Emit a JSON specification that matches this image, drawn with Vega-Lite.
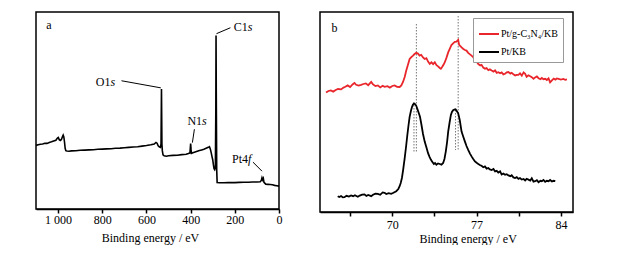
{
  "$schema": "https://vega.github.io/schema/vega-lite/v6.json",
  "background": "white",
  "padding": {"left": 32, "top": 11, "right": 0, "bottom": 0},
  "bounds": "flush",
  "spacing": 41,
  "config": {
    "font": "Liberation Serif",
    "view": {"stroke": "black", "strokeWidth": 1.5},
    "axis": {
      "grid": false, "domainColor": "black", "domainWidth": 1.5, "tickColor": "black", "tickWidth": 1.5, "tickSize": 4,
      "labelFont": "Liberation Serif", "labelFontSize": 12, "labelColor": "black", "labelFlush": false, "labelOverlap": false,
      "titleFont": "Liberation Serif", "titleFontSize": 12, "titleFontWeight": "normal", "titleColor": "black"
    },
    "text": {"font": "Liberation Serif", "fontSize": 12, "color": "black"}
  },
  "datasets": {
    "survey": [
      {"E":1100,"I":32.3},{"E":1090,"I":32.6},{"E":1080,"I":32.9},{"E":1070,"I":33.0},{"E":1060,"I":33.4},{"E":1050,"I":33.3},{"E":1040,"I":33.8},{"E":1030,"I":34.1},{"E":1020,"I":34.5},{"E":1010,"I":34.9},{"E":1003,"I":36.0},{"E":999,"I":36.3},{"E":995,"I":35.2},{"E":990,"I":34.8},{"E":985,"I":35.3},{"E":980,"I":36.8},{"E":977,"I":37.5},{"E":974,"I":36.6},{"E":971,"I":34.0},{"E":968,"I":30.8},{"E":965,"I":29.6},{"E":960,"I":29.4},{"E":950,"I":29.3},{"E":940,"I":29.5},{"E":920,"I":29.6},{"E":900,"I":29.8},{"E":880,"I":29.9},{"E":860,"I":30.0},{"E":840,"I":30.1},{"E":820,"I":30.3},{"E":800,"I":30.4},{"E":780,"I":30.5},{"E":760,"I":30.6},{"E":740,"I":30.8},{"E":720,"I":30.9},{"E":700,"I":31.1},{"E":680,"I":31.3},{"E":660,"I":31.5},{"E":640,"I":31.6},{"E":620,"I":31.9},{"E":600,"I":32.2},{"E":580,"I":32.6},{"E":565,"I":33.0},{"E":557,"I":33.8},{"E":552,"I":33.4},{"E":547,"I":32.1},{"E":542,"I":31.6},{"E":537,"I":31.3},{"E":534,"I":33.0},{"E":532,"I":60.9},{"E":530,"I":33.0},{"E":528,"I":29.5},{"E":525,"I":27.5},{"E":520,"I":27.0},{"E":510,"I":26.8},{"E":500,"I":27.0},{"E":480,"I":27.2},{"E":460,"I":27.3},{"E":440,"I":27.6},{"E":420,"I":27.8},{"E":410,"I":28.2},{"E":403,"I":28.5},{"E":400,"I":33.2},{"E":398,"I":30.0},{"E":396,"I":28.2},{"E":390,"I":28.5},{"E":380,"I":28.9},{"E":370,"I":29.3},{"E":360,"I":29.7},{"E":350,"I":30.0},{"E":340,"I":30.3},{"E":330,"I":30.8},{"E":320,"I":31.3},{"E":315,"I":31.6},{"E":311,"I":30.5},{"E":307,"I":28.6},{"E":303,"I":26.5},{"E":300,"I":25.0},{"E":297,"I":22.5},{"E":294,"I":20.5},{"E":291,"I":20.0},{"E":288,"I":21.0},{"E":286,"I":50.0},{"E":285,"I":88.1},{"E":284,"I":60.0},{"E":282,"I":20.0},{"E":280,"I":13.4},{"E":270,"I":13.3},{"E":250,"I":13.3},{"E":230,"I":13.4},{"E":200,"I":13.4},{"E":180,"I":13.5},{"E":160,"I":13.6},{"E":140,"I":13.6},{"E":120,"I":13.7},{"E":100,"I":13.7},{"E":85,"I":13.8},{"E":80,"I":14.5},{"E":77,"I":15.8},{"E":74,"I":14.8},{"E":71,"I":15.5},{"E":68,"I":13.5},{"E":60,"I":12.6},{"E":50,"I":12.5},{"E":40,"I":12.4},{"E":30,"I":12.3},{"E":20,"I":12.0},{"E":10,"I":11.8},{"E":0,"I":11.6}
    ],
    "leadA": [
      {"E":713,"I":65.1,"E2":535,"I2":61.5},
      {"E":283,"I":89.0,"E2":220,"I2":92.0},
      {"E":383,"I":40.5,"E2":392,"I2":33.7},
      {"E":118,"I":23.8,"E2":77,"I2":19.2}
    ],
    "labelsA": [
      {"E":1030,"I":93.2,"main":"a","suffix":""},
      {"E":763,"I":64.6,"main":"O1","suffix":"s"},
      {"E":141,"I":92.2,"main":"C1","suffix":"s"},
      {"E":348,"I":44.7,"main":"N1","suffix":"s"},
      {"E":140,"I":25.4,"main":"Pt4","suffix":"f"}
    ],
    "pt": [
      {"E":64.5,"I":59.7,"s":"Pt/g-C₃N₄/KB"},{"E":64.7,"I":60.5,"s":"Pt/g-C₃N₄/KB"},{"E":64.9,"I":60.8,"s":"Pt/g-C₃N₄/KB"},{"E":65.1,"I":60.2,"s":"Pt/g-C₃N₄/KB"},{"E":65.3,"I":61.0,"s":"Pt/g-C₃N₄/KB"},{"E":65.5,"I":61.5,"s":"Pt/g-C₃N₄/KB"},{"E":65.75,"I":61.3,"s":"Pt/g-C₃N₄/KB"},{"E":65.95,"I":62.2,"s":"Pt/g-C₃N₄/KB"},{"E":66.1,"I":62.6,"s":"Pt/g-C₃N₄/KB"},{"E":66.3,"I":63.3,"s":"Pt/g-C₃N₄/KB"},{"E":66.5,"I":62.5,"s":"Pt/g-C₃N₄/KB"},{"E":66.7,"I":63.8,"s":"Pt/g-C₃N₄/KB"},{"E":66.86,"I":64.5,"s":"Pt/g-C₃N₄/KB"},{"E":67.0,"I":63.6,"s":"Pt/g-C₃N₄/KB"},{"E":67.2,"I":63.2,"s":"Pt/g-C₃N₄/KB"},{"E":67.41,"I":63.6,"s":"Pt/g-C₃N₄/KB"},{"E":67.6,"I":64.0,"s":"Pt/g-C₃N₄/KB"},{"E":67.8,"I":64.3,"s":"Pt/g-C₃N₄/KB"},{"E":68.0,"I":63.4,"s":"Pt/g-C₃N₄/KB"},{"E":68.25,"I":65.0,"s":"Pt/g-C₃N₄/KB"},{"E":68.4,"I":63.8,"s":"Pt/g-C₃N₄/KB"},{"E":68.6,"I":63.0,"s":"Pt/g-C₃N₄/KB"},{"E":68.8,"I":63.3,"s":"Pt/g-C₃N₄/KB"},{"E":69.0,"I":62.3,"s":"Pt/g-C₃N₄/KB"},{"E":69.2,"I":63.1,"s":"Pt/g-C₃N₄/KB"},{"E":69.36,"I":62.6,"s":"Pt/g-C₃N₄/KB"},{"E":69.6,"I":62.9,"s":"Pt/g-C₃N₄/KB"},{"E":69.8,"I":62.2,"s":"Pt/g-C₃N₄/KB"},{"E":70.0,"I":63.0,"s":"Pt/g-C₃N₄/KB"},{"E":70.19,"I":63.3,"s":"Pt/g-C₃N₄/KB"},{"E":70.4,"I":62.6,"s":"Pt/g-C₃N₄/KB"},{"E":70.61,"I":62.5,"s":"Pt/g-C₃N₄/KB"},{"E":70.75,"I":63.3,"s":"Pt/g-C₃N₄/KB"},{"E":70.89,"I":65.0,"s":"Pt/g-C₃N₄/KB"},{"E":71.03,"I":67.5,"s":"Pt/g-C₃N₄/KB"},{"E":71.16,"I":70.7,"s":"Pt/g-C₃N₄/KB"},{"E":71.3,"I":73.6,"s":"Pt/g-C₃N₄/KB"},{"E":71.44,"I":76.5,"s":"Pt/g-C₃N₄/KB"},{"E":71.58,"I":77.4,"s":"Pt/g-C₃N₄/KB"},{"E":71.72,"I":78.2,"s":"Pt/g-C₃N₄/KB"},{"E":71.85,"I":79.0,"s":"Pt/g-C₃N₄/KB"},{"E":71.99,"I":79.6,"s":"Pt/g-C₃N₄/KB"},{"E":72.13,"I":79.2,"s":"Pt/g-C₃N₄/KB"},{"E":72.27,"I":78.2,"s":"Pt/g-C₃N₄/KB"},{"E":72.4,"I":78.6,"s":"Pt/g-C₃N₄/KB"},{"E":72.55,"I":77.3,"s":"Pt/g-C₃N₄/KB"},{"E":72.69,"I":76.5,"s":"Pt/g-C₃N₄/KB"},{"E":72.83,"I":76.9,"s":"Pt/g-C₃N₄/KB"},{"E":72.97,"I":75.2,"s":"Pt/g-C₃N₄/KB"},{"E":73.11,"I":74.0,"s":"Pt/g-C₃N₄/KB"},{"E":73.25,"I":74.8,"s":"Pt/g-C₃N₄/KB"},{"E":73.39,"I":73.9,"s":"Pt/g-C₃N₄/KB"},{"E":73.53,"I":74.9,"s":"Pt/g-C₃N₄/KB"},{"E":73.67,"I":73.4,"s":"Pt/g-C₃N₄/KB"},{"E":73.8,"I":72.8,"s":"Pt/g-C₃N₄/KB"},{"E":73.94,"I":72.0,"s":"Pt/g-C₃N₄/KB"},{"E":74.03,"I":71.6,"s":"Pt/g-C₃N₄/KB"},{"E":74.15,"I":72.6,"s":"Pt/g-C₃N₄/KB"},{"E":74.25,"I":73.6,"s":"Pt/g-C₃N₄/KB"},{"E":74.36,"I":74.9,"s":"Pt/g-C₃N₄/KB"},{"E":74.5,"I":77.2,"s":"Pt/g-C₃N₄/KB"},{"E":74.64,"I":79.8,"s":"Pt/g-C₃N₄/KB"},{"E":74.77,"I":81.6,"s":"Pt/g-C₃N₄/KB"},{"E":74.91,"I":83.5,"s":"Pt/g-C₃N₄/KB"},{"E":75.05,"I":84.3,"s":"Pt/g-C₃N₄/KB"},{"E":75.19,"I":85.1,"s":"Pt/g-C₃N₄/KB"},{"E":75.33,"I":85.2,"s":"Pt/g-C₃N₄/KB"},{"E":75.47,"I":86.1,"s":"Pt/g-C₃N₄/KB"},{"E":75.55,"I":83.6,"s":"Pt/g-C₃N₄/KB"},{"E":75.65,"I":83.0,"s":"Pt/g-C₃N₄/KB"},{"E":75.75,"I":82.3,"s":"Pt/g-C₃N₄/KB"},{"E":75.9,"I":81.5,"s":"Pt/g-C₃N₄/KB"},{"E":76.03,"I":81.0,"s":"Pt/g-C₃N₄/KB"},{"E":76.16,"I":80.7,"s":"Pt/g-C₃N₄/KB"},{"E":76.3,"I":79.6,"s":"Pt/g-C₃N₄/KB"},{"E":76.45,"I":78.8,"s":"Pt/g-C₃N₄/KB"},{"E":76.58,"I":78.2,"s":"Pt/g-C₃N₄/KB"},{"E":76.72,"I":77.4,"s":"Pt/g-C₃N₄/KB"},{"E":76.86,"I":76.0,"s":"Pt/g-C₃N₄/KB"},{"E":77.0,"I":75.2,"s":"Pt/g-C₃N₄/KB"},{"E":77.14,"I":74.0,"s":"Pt/g-C₃N₄/KB"},{"E":77.3,"I":73.3,"s":"Pt/g-C₃N₄/KB"},{"E":77.41,"I":73.6,"s":"Pt/g-C₃N₄/KB"},{"E":77.55,"I":72.2,"s":"Pt/g-C₃N₄/KB"},{"E":77.69,"I":71.6,"s":"Pt/g-C₃N₄/KB"},{"E":77.83,"I":72.0,"s":"Pt/g-C₃N₄/KB"},{"E":77.97,"I":70.9,"s":"Pt/g-C₃N₄/KB"},{"E":78.1,"I":71.3,"s":"Pt/g-C₃N₄/KB"},{"E":78.25,"I":70.7,"s":"Pt/g-C₃N₄/KB"},{"E":78.4,"I":70.2,"s":"Pt/g-C₃N₄/KB"},{"E":78.53,"I":70.8,"s":"Pt/g-C₃N₄/KB"},{"E":78.67,"I":69.6,"s":"Pt/g-C₃N₄/KB"},{"E":78.8,"I":69.9,"s":"Pt/g-C₃N₄/KB"},{"E":78.95,"I":69.4,"s":"Pt/g-C₃N₄/KB"},{"E":79.08,"I":69.8,"s":"Pt/g-C₃N₄/KB"},{"E":79.22,"I":68.8,"s":"Pt/g-C₃N₄/KB"},{"E":79.36,"I":69.1,"s":"Pt/g-C₃N₄/KB"},{"E":79.5,"I":69.8,"s":"Pt/g-C₃N₄/KB"},{"E":79.64,"I":70.0,"s":"Pt/g-C₃N₄/KB"},{"E":79.8,"I":69.2,"s":"Pt/g-C₃N₄/KB"},{"E":79.91,"I":69.6,"s":"Pt/g-C₃N₄/KB"},{"E":80.05,"I":68.9,"s":"Pt/g-C₃N₄/KB"},{"E":80.2,"I":68.3,"s":"Pt/g-C₃N₄/KB"},{"E":80.33,"I":68.6,"s":"Pt/g-C₃N₄/KB"},{"E":80.47,"I":68.6,"s":"Pt/g-C₃N₄/KB"},{"E":80.6,"I":69.3,"s":"Pt/g-C₃N₄/KB"},{"E":80.75,"I":68.2,"s":"Pt/g-C₃N₄/KB"},{"E":80.9,"I":69.8,"s":"Pt/g-C₃N₄/KB"},{"E":81.03,"I":69.1,"s":"Pt/g-C₃N₄/KB"},{"E":81.15,"I":67.6,"s":"Pt/g-C₃N₄/KB"},{"E":81.3,"I":68.3,"s":"Pt/g-C₃N₄/KB"},{"E":81.45,"I":67.9,"s":"Pt/g-C₃N₄/KB"},{"E":81.58,"I":67.4,"s":"Pt/g-C₃N₄/KB"},{"E":81.72,"I":66.6,"s":"Pt/g-C₃N₄/KB"},{"E":81.86,"I":67.3,"s":"Pt/g-C₃N₄/KB"},{"E":82.0,"I":67.8,"s":"Pt/g-C₃N₄/KB"},{"E":82.14,"I":66.9,"s":"Pt/g-C₃N₄/KB"},{"E":82.3,"I":66.4,"s":"Pt/g-C₃N₄/KB"},{"E":82.41,"I":67.0,"s":"Pt/g-C₃N₄/KB"},{"E":82.55,"I":66.4,"s":"Pt/g-C₃N₄/KB"},{"E":82.69,"I":66.6,"s":"Pt/g-C₃N₄/KB"},{"E":82.83,"I":66.0,"s":"Pt/g-C₃N₄/KB"},{"E":82.97,"I":66.8,"s":"Pt/g-C₃N₄/KB"},{"E":83.1,"I":64.8,"s":"Pt/g-C₃N₄/KB"},{"E":83.25,"I":65.8,"s":"Pt/g-C₃N₄/KB"},{"E":83.4,"I":66.7,"s":"Pt/g-C₃N₄/KB"},{"E":83.53,"I":66.2,"s":"Pt/g-C₃N₄/KB"},{"E":83.67,"I":66.8,"s":"Pt/g-C₃N₄/KB"},{"E":83.8,"I":66.6,"s":"Pt/g-C₃N₄/KB"},{"E":84.0,"I":66.2,"s":"Pt/g-C₃N₄/KB"},{"E":84.2,"I":66.5,"s":"Pt/g-C₃N₄/KB"},{"E":84.35,"I":66.1,"s":"Pt/g-C₃N₄/KB"},{"E":84.5,"I":66.3,"s":"Pt/g-C₃N₄/KB"},
      {"E":65.47,"I":7.9,"s":"Pt/KB"},{"E":65.6,"I":7.5,"s":"Pt/KB"},{"E":65.75,"I":8.0,"s":"Pt/KB"},{"E":65.9,"I":7.3,"s":"Pt/KB"},{"E":66.03,"I":7.4,"s":"Pt/KB"},{"E":66.2,"I":8.1,"s":"Pt/KB"},{"E":66.4,"I":7.7,"s":"Pt/KB"},{"E":66.58,"I":8.3,"s":"Pt/KB"},{"E":66.75,"I":7.9,"s":"Pt/KB"},{"E":66.9,"I":8.4,"s":"Pt/KB"},{"E":67.14,"I":7.6,"s":"Pt/KB"},{"E":67.3,"I":8.2,"s":"Pt/KB"},{"E":67.5,"I":8.7,"s":"Pt/KB"},{"E":67.69,"I":8.8,"s":"Pt/KB"},{"E":67.85,"I":8.0,"s":"Pt/KB"},{"E":68.0,"I":8.5,"s":"Pt/KB"},{"E":68.25,"I":7.9,"s":"Pt/KB"},{"E":68.4,"I":8.6,"s":"Pt/KB"},{"E":68.6,"I":9.2,"s":"Pt/KB"},{"E":68.8,"I":9.1,"s":"Pt/KB"},{"E":69.0,"I":8.6,"s":"Pt/KB"},{"E":69.2,"I":9.8,"s":"Pt/KB"},{"E":69.36,"I":9.6,"s":"Pt/KB"},{"E":69.5,"I":9.0,"s":"Pt/KB"},{"E":69.7,"I":9.4,"s":"Pt/KB"},{"E":69.91,"I":9.1,"s":"Pt/KB"},{"E":70.1,"I":9.6,"s":"Pt/KB"},{"E":70.33,"I":10.4,"s":"Pt/KB"},{"E":70.5,"I":11.5,"s":"Pt/KB"},{"E":70.61,"I":12.9,"s":"Pt/KB"},{"E":70.7,"I":14.5,"s":"Pt/KB"},{"E":70.8,"I":17.0,"s":"Pt/KB"},{"E":70.9,"I":21.0,"s":"Pt/KB"},{"E":71.03,"I":26.9,"s":"Pt/KB"},{"E":71.15,"I":33.0,"s":"Pt/KB"},{"E":71.25,"I":38.5,"s":"Pt/KB"},{"E":71.35,"I":43.5,"s":"Pt/KB"},{"E":71.44,"I":47.6,"s":"Pt/KB"},{"E":71.55,"I":50.6,"s":"Pt/KB"},{"E":71.64,"I":52.6,"s":"Pt/KB"},{"E":71.72,"I":53.7,"s":"Pt/KB"},{"E":71.8,"I":54.2,"s":"Pt/KB"},{"E":71.9,"I":53.9,"s":"Pt/KB"},{"E":71.99,"I":53.1,"s":"Pt/KB"},{"E":72.1,"I":51.2,"s":"Pt/KB"},{"E":72.19,"I":49.6,"s":"Pt/KB"},{"E":72.3,"I":47.6,"s":"Pt/KB"},{"E":72.41,"I":44.0,"s":"Pt/KB"},{"E":72.55,"I":39.0,"s":"Pt/KB"},{"E":72.69,"I":35.2,"s":"Pt/KB"},{"E":72.83,"I":32.4,"s":"Pt/KB"},{"E":72.97,"I":29.4,"s":"Pt/KB"},{"E":73.1,"I":27.4,"s":"Pt/KB"},{"E":73.2,"I":26.2,"s":"Pt/KB"},{"E":73.3,"I":25.3,"s":"Pt/KB"},{"E":73.45,"I":24.0,"s":"Pt/KB"},{"E":73.55,"I":24.5,"s":"Pt/KB"},{"E":73.66,"I":23.6,"s":"Pt/KB"},{"E":73.8,"I":24.3,"s":"Pt/KB"},{"E":73.94,"I":24.0,"s":"Pt/KB"},{"E":74.08,"I":23.7,"s":"Pt/KB"},{"E":74.22,"I":24.5,"s":"Pt/KB"},{"E":74.33,"I":26.5,"s":"Pt/KB"},{"E":74.44,"I":30.2,"s":"Pt/KB"},{"E":74.55,"I":35.0,"s":"Pt/KB"},{"E":74.64,"I":40.2,"s":"Pt/KB"},{"E":74.75,"I":44.5,"s":"Pt/KB"},{"E":74.86,"I":48.4,"s":"Pt/KB"},{"E":74.95,"I":50.0,"s":"Pt/KB"},{"E":75.05,"I":50.9,"s":"Pt/KB"},{"E":75.15,"I":51.2,"s":"Pt/KB"},{"E":75.25,"I":51.4,"s":"Pt/KB"},{"E":75.35,"I":50.5,"s":"Pt/KB"},{"E":75.47,"I":49.3,"s":"Pt/KB"},{"E":75.6,"I":46.0,"s":"Pt/KB"},{"E":75.75,"I":40.2,"s":"Pt/KB"},{"E":75.9,"I":37.5,"s":"Pt/KB"},{"E":76.03,"I":35.2,"s":"Pt/KB"},{"E":76.16,"I":33.0,"s":"Pt/KB"},{"E":76.3,"I":31.1,"s":"Pt/KB"},{"E":76.45,"I":29.2,"s":"Pt/KB"},{"E":76.58,"I":27.8,"s":"Pt/KB"},{"E":76.72,"I":26.5,"s":"Pt/KB"},{"E":76.86,"I":25.3,"s":"Pt/KB"},{"E":77.0,"I":24.6,"s":"Pt/KB"},{"E":77.14,"I":24.0,"s":"Pt/KB"},{"E":77.3,"I":23.4,"s":"Pt/KB"},{"E":77.41,"I":23.1,"s":"Pt/KB"},{"E":77.55,"I":22.4,"s":"Pt/KB"},{"E":77.69,"I":22.8,"s":"Pt/KB"},{"E":77.83,"I":21.7,"s":"Pt/KB"},{"E":77.97,"I":22.0,"s":"Pt/KB"},{"E":78.1,"I":21.3,"s":"Pt/KB"},{"E":78.25,"I":21.0,"s":"Pt/KB"},{"E":78.4,"I":21.5,"s":"Pt/KB"},{"E":78.53,"I":20.3,"s":"Pt/KB"},{"E":78.67,"I":20.6,"s":"Pt/KB"},{"E":78.8,"I":19.7,"s":"Pt/KB"},{"E":78.95,"I":20.3,"s":"Pt/KB"},{"E":79.08,"I":18.7,"s":"Pt/KB"},{"E":79.22,"I":19.2,"s":"Pt/KB"},{"E":79.36,"I":18.6,"s":"Pt/KB"},{"E":79.5,"I":18.9,"s":"Pt/KB"},{"E":79.64,"I":18.3,"s":"Pt/KB"},{"E":79.8,"I":17.9,"s":"Pt/KB"},{"E":79.91,"I":18.4,"s":"Pt/KB"},{"E":80.05,"I":17.3,"s":"Pt/KB"},{"E":80.19,"I":17.0,"s":"Pt/KB"},{"E":80.33,"I":17.4,"s":"Pt/KB"},{"E":80.47,"I":16.6,"s":"Pt/KB"},{"E":80.6,"I":17.0,"s":"Pt/KB"},{"E":80.75,"I":16.2,"s":"Pt/KB"},{"E":80.9,"I":16.5,"s":"Pt/KB"},{"E":81.03,"I":15.8,"s":"Pt/KB"},{"E":81.15,"I":16.6,"s":"Pt/KB"},{"E":81.3,"I":16.2,"s":"Pt/KB"},{"E":81.45,"I":15.7,"s":"Pt/KB"},{"E":81.58,"I":16.9,"s":"Pt/KB"},{"E":81.72,"I":15.2,"s":"Pt/KB"},{"E":81.86,"I":15.4,"s":"Pt/KB"},{"E":82.0,"I":15.9,"s":"Pt/KB"},{"E":82.14,"I":14.9,"s":"Pt/KB"},{"E":82.3,"I":15.6,"s":"Pt/KB"},{"E":82.41,"I":15.4,"s":"Pt/KB"},{"E":82.55,"I":16.0,"s":"Pt/KB"},{"E":82.69,"I":15.1,"s":"Pt/KB"},{"E":82.83,"I":15.6,"s":"Pt/KB"},{"E":82.97,"I":15.4,"s":"Pt/KB"},{"E":83.1,"I":16.0,"s":"Pt/KB"},{"E":83.25,"I":15.3,"s":"Pt/KB"},{"E":83.4,"I":15.6,"s":"Pt/KB"},{"E":83.53,"I":15.4,"s":"Pt/KB"}
    ],
    "dots": [
      {"E":72.0,"I":94,"I2":29.5},
      {"E":71.8,"I":55,"I2":29.5},
      {"E":75.47,"I":98,"I2":31},
      {"E":75.25,"I":51,"I2":31}
    ],
    "labelsB": [{"E":65.2,"I":92,"t":"b"}]
  },
  "hconcat": [
    {
      "width": 243,
      "height": 197,
      "layer": [
        {
          "data": {"name": "survey"},
          "mark": {"type": "line", "color": "black", "strokeWidth": 1.6},
          "encoding": {
            "x": {"field": "E", "type": "quantitative",
              "scale": {"domain": [0, 1100], "reverse": true, "nice": false, "zero": false},
              "axis": {"title": "Binding energy / eV", "values": [0,100,200,300,400,500,600,700,800,900,1000],
                "labelExpr": "datum.value % 200 === 0 ? (datum.value === 1000 ? '1 000' : datum.label) : ''",
                "labelPadding": 1.5, "titleX": 114, "titleY": 23}},
            "y": {"field": "I", "type": "quantitative", "scale": {"domain": [0, 100], "nice": false}, "axis": null}
          }
        },
        {
          "data": {"name": "leadA"},
          "mark": {"type": "rule", "color": "black", "strokeWidth": 1},
          "encoding": {
            "x": {"field": "E", "type": "quantitative"},
            "x2": {"field": "E2"},
            "y": {"field": "I", "type": "quantitative"},
            "y2": {"field": "I2"}
          }
        },
        {
          "data": {"name": "labelsA"},
          "mark": {"type": "text", "align": "right", "baseline": "middle"},
          "encoding": {
            "x": {"field": "E", "type": "quantitative"},
            "y": {"field": "I", "type": "quantitative"},
            "text": {"field": "main"}
          }
        },
        {
          "data": {"name": "labelsA"},
          "mark": {"type": "text", "align": "left", "baseline": "middle", "fontStyle": "italic"},
          "encoding": {
            "x": {"field": "E", "type": "quantitative"},
            "y": {"field": "I", "type": "quantitative"},
            "text": {"field": "suffix"}
          }
        }
      ]
    },
    {
      "width": 253,
      "height": 200,
      "layer": [
        {
          "data": {"name": "dots"},
          "mark": {"type": "rule", "color": "#777777", "strokeWidth": 1, "strokeDash": [1.5, 1.5]},
          "encoding": {
            "x": {"field": "E", "type": "quantitative",
              "scale": {"domain": [64, 85], "nice": false, "zero": false},
              "axis": {"title": "Binding energy / eV", "values": [66.5, 70, 73.5, 77, 80.5, 84],
                "labelExpr": "datum.value % 7 === 0 ? datum.label : ''",
                "labelPadding": 3.5, "titleX": 147.6, "titleY": 21}},
            "y": {"field": "I", "type": "quantitative", "scale": {"domain": [0, 100], "nice": false}, "axis": null},
            "y2": {"field": "I2"}
          }
        },
        {
          "data": {"name": "pt"},
          "mark": {"type": "line", "strokeWidth": 1.8},
          "encoding": {
            "x": {"field": "E", "type": "quantitative"},
            "y": {"field": "I", "type": "quantitative"},
            "color": {"field": "s", "type": "nominal",
              "scale": {"domain": ["Pt/g-C₃N₄/KB", "Pt/KB"], "range": ["#e8262b", "#000000"]},
              "legend": {"title": null, "orient": "none", "legendX": 437, "legendY": 6,
                "strokeColor": "#999999", "fillColor": "white", "padding": 5, "symbolType": "stroke",
                "symbolStrokeWidth": 2, "symbolSize": 400, "labelFont": "Liberation Serif", "labelFontSize": 10,
                "labelColor": "black", "rowPadding": 2, "labelOffset": 1}}
          }
        },
        {
          "data": {"name": "labelsB"},
          "mark": {"type": "text", "align": "center", "baseline": "middle"},
          "encoding": {
            "x": {"field": "E", "type": "quantitative"},
            "y": {"field": "I", "type": "quantitative"},
            "text": {"field": "t"}
          }
        }
      ]
    }
  ]
}
